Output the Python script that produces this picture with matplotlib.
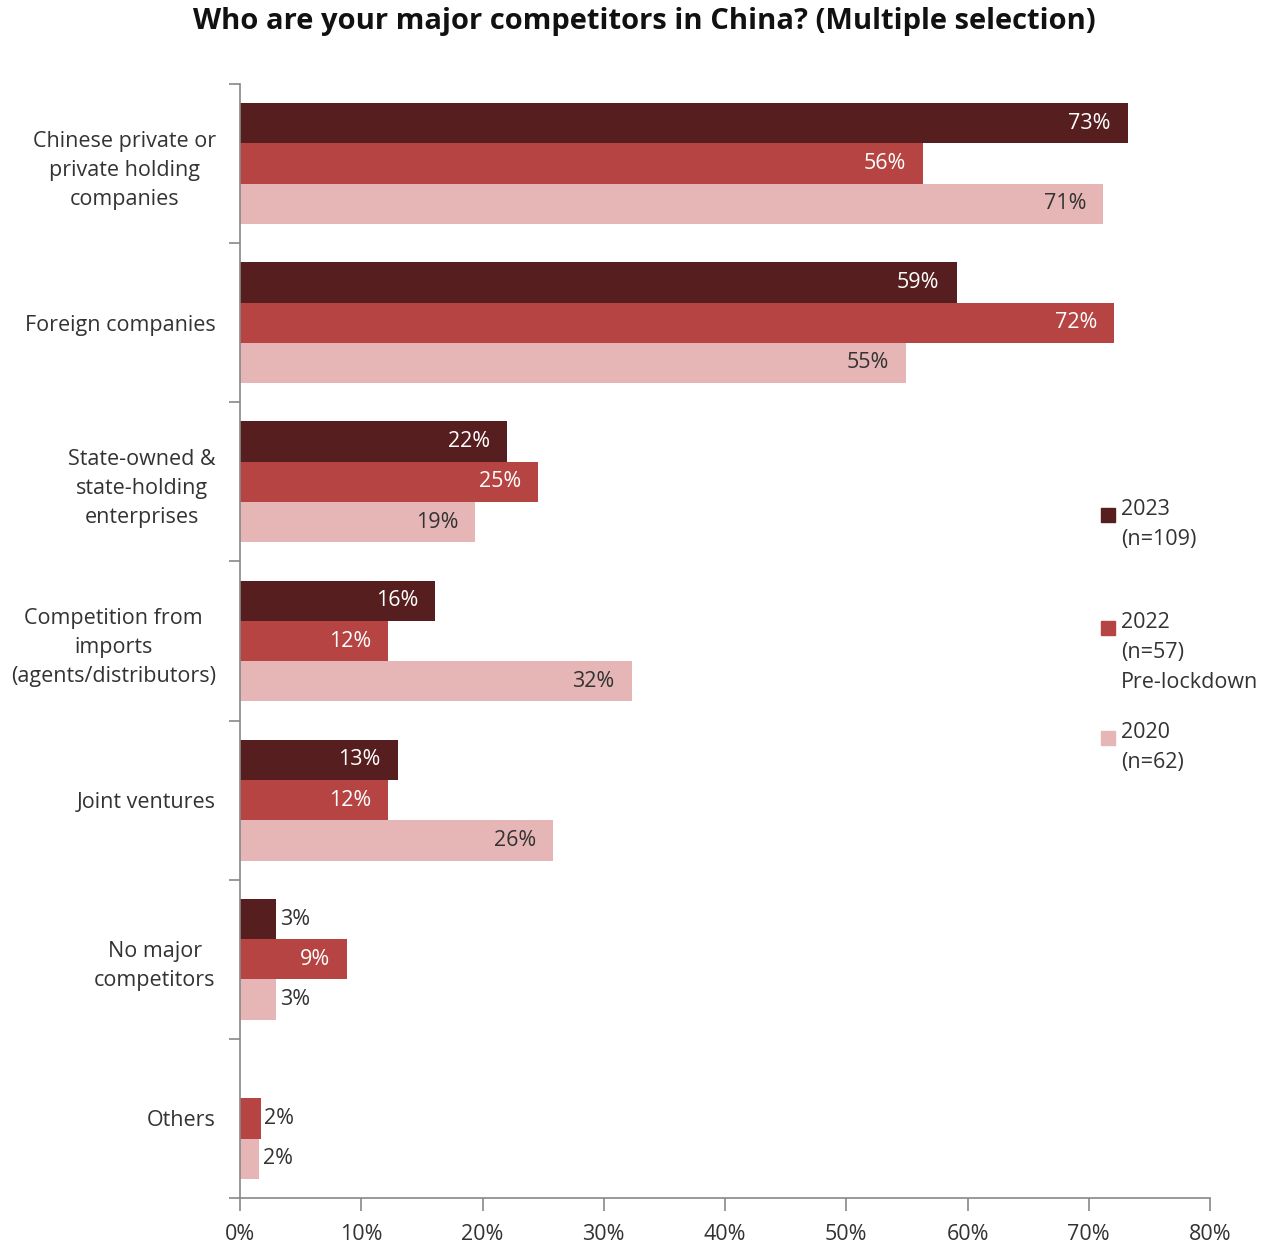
import matplotlib
matplotlib.use("Agg")
import matplotlib.pyplot as plt
import numpy as np
from matplotlib.patches import Rectangle

plt.rcParams['font.family'] = ['Open Sans', 'DejaVu Sans']

categories = [
    "Chinese private or\nprivate holding\ncompanies",
    "Foreign companies",
    "State-owned &\nstate-holding\nenterprises",
    "Competition from\nimports\n(agents/distributors)",
    "Joint ventures",
    "No major\ncompetitors",
    "Others",
]
series_names = ["2023\n(n=109)", "2022\n(n=57)\nPre-lockdown", "2020\n(n=62)"]
vals_2023 = [73.2, 59.1, 22.0, 16.1, 13.0, 3.0, 0.0]
vals_2022 = [56.3, 72.1, 24.6, 12.2, 12.2, 8.8, 1.7]
vals_2020 = [71.2, 54.9, 19.4, 32.3, 25.8, 3.0, 1.6]
series_vals = [vals_2023, vals_2022, vals_2020]
colors = ["#561e1e", "#b54442", "#e6b6b6"]
label_colors = ["white", "white", "#333333"]
x_ticks = [0, 10, 20, 30, 40, 50, 60, 70, 80]

fig = plt.figure(figsize=(12.70, 12.46), dpi=100)
ax = fig.add_axes([240/1270, 1 - 1198/1246, 970/1270, (1198-84)/1246])

n = len(categories)
y = np.arange(n)
h = 0.253
offsets = [-h, 0, h]
text_c = "#333333"
for vals, col, lc, off in zip(series_vals, colors, label_colors, offsets):
    ax.barh(y + off, vals, height=h, color=col, edgecolor='none')
    for yi, v in zip(y, vals):
        if v <= 0:
            continue
        lab = f"{round(v):.0f}%"
        if v < 5:
            ax.text(v + 0.3, yi + off, lab, ha='left', va='center',
                    fontsize=15.5, color=text_c)
        else:
            ax.text(v - 1.4, yi + off, lab, ha='right', va='center',
                    fontsize=15.5, color=lc)

ax.set_ylim(n - 0.5, -0.5)
ax.set_xlim(0, 80)
ax.set_xticks(x_ticks)
ax.set_xticklabels([f"{t}%" for t in x_ticks], fontsize=15.5, color=text_c)
ax.set_yticks(y)
ax.set_yticklabels(categories, fontsize=15.5, color=text_c, multialignment='center',
                   linespacing=1.5)
ax.tick_params(axis='y', which='major', length=0, pad=17.5)
ax.set_yticks(np.arange(-0.5, n, 1.0), minor=True)
ax.tick_params(axis='y', which='minor', length=8, color='#888888', width=1.2)
ax.tick_params(axis='x', length=9, color='#888888', width=1.2, pad=10)
for s in ['top', 'right']:
    ax.spines[s].set_visible(False)
for s in ['left', 'bottom']:
    ax.spines[s].set_color('#888888')
    ax.spines[s].set_linewidth(1.2)

fig.text(644/1270, 1 - 22/1246, "Who are your major competitors in China? (Multiple selection)",
         ha='center', va='center', fontsize=21, fontweight='bold', color='#111111')

# legend
leg_tops = [514, 627, 737]
for name, col, yt in zip(series_names, colors, leg_tops):
    fig.patches.append(Rectangle((1101/1270, 1 - (yt + 8)/1246), 14/1270, 14/1246,
                                 transform=fig.transFigure, color=col))
    fig.text(1121/1270, 1 - (yt - 15)/1246, name, ha='left', va='top',
             fontsize=15.5, color=text_c, linespacing=1.55)

fig.savefig("out.png", dpi=100)
